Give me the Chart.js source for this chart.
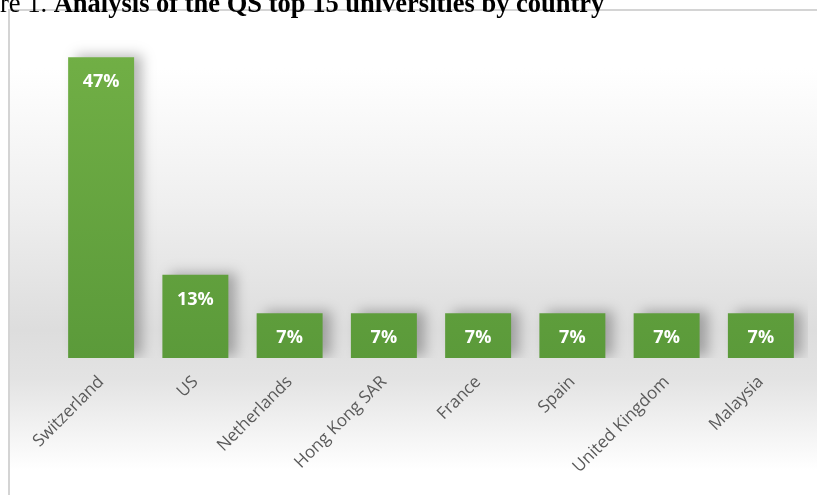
<!DOCTYPE html>
<html>
<head>
<meta charset="utf-8">
<script src="https://cdn.jsdelivr.net/npm/chart.js@4.4.1/dist/chart.umd.min.js"></script>
<style>
  html, body { margin: 0; padding: 0; background: #fff; overflow: hidden; }
  #wrap { position: relative; width: 817px; height: 495px; }
  #chart { position: absolute; left: 0; top: 0; }
  #title {
    position: absolute; left: 0; top: -12px; white-space: nowrap;
    font-family: "Liberation Serif", "DejaVu Serif", serif; font-size: 26.5px; color: #000;
  }
  #title b { font-weight: bold; }
</style>
</head>
<body>
<div id="wrap">
  <canvas id="chart" width="817" height="495"></canvas>
  <div id="title">re 1. <b>Analysis of the QS top 15 universities by country</b></div>
</div>
<script>
// số liệu
const countries = ["Switzerland", "US", "Netherlands", "Hong Kong SAR", "France", "Spain", "United Kingdom", "Malaysia"];
const shares = [47, 13, 7, 7, 7, 7, 7, 7];
const valueLabels = ["47%", "13%", "7%", "7%", "7%", "7%", "7%", "7%"];

// nền khung có dải xám ở giữa + viền
const framePlugin = {
  id: "frame",
  beforeDraw(chart) {
    const ctx = chart.ctx;
    const g = ctx.createLinearGradient(0, 10, 0, 495);
    g.addColorStop(0, "#ffffff");
    g.addColorStop(0.12, "#ffffff");
    g.addColorStop(0.4, "#efefef");
    g.addColorStop(0.66, "#dddddd");
    g.addColorStop(0.76, "#e3e3e3");
    g.addColorStop(0.95, "#ffffff");
    g.addColorStop(1, "#ffffff");
    ctx.save();
    ctx.fillStyle = g;
    ctx.fillRect(10, 11, 807, 484);
    ctx.strokeStyle = "#d4d4d4";
    ctx.lineWidth = 2;
    ctx.strokeRect(9, 10, 820, 500);
    ctx.restore();
  },
  beforeDatasetsDraw(chart) {
    const ctx = chart.ctx;
    ctx.save();
    ctx.shadowColor = "rgba(0,0,0,0.28)";
    ctx.shadowBlur = 12;
    ctx.shadowOffsetX = 8;
    ctx.shadowOffsetY = -2;
  },
  afterDatasetsDraw(chart) {
    const ctx = chart.ctx;
    ctx.restore();
    // nhãn giá trị bên trong đầu cột
    ctx.save();
    ctx.fillStyle = "#ffffff";
    ctx.font = "bold 18px 'Open Sans', sans-serif";
    ctx.textAlign = "center";
    ctx.textBaseline = "middle";
    chart.getDatasetMeta(0).data.forEach((bar, i) => {
      ctx.fillText(valueLabels[i], bar.x, bar.y + 25);
    });
    ctx.restore();
  }
};

const ctx = document.getElementById("chart");
new Chart(ctx, {
  type: "bar",
  data: {
    labels: countries,
    datasets: [{
      data: shares,
      backgroundColor: function(context) {
        const area = context.chart.chartArea;
        if (!area) return "#66a640";
        const g = context.chart.ctx.createLinearGradient(0, area.top, 0, area.bottom);
        g.addColorStop(0, "#72b046");
        g.addColorStop(1, "#5b9a3a");
        return g;
      },
      borderWidth: 0,
      barPercentage: 0.7,
      categoryPercentage: 1
    }]
  },
  options: {
    responsive: false,
    animation: false,
    layout: { padding: { left: 54, right: 9, top: 38, bottom: 0 } },
    plugins: {
      legend: { display: false },
      tooltip: { enabled: false }
    },
    scales: {
      x: {
        grid: { display: false },
        border: { display: false },
        ticks: {
          color: "#5a5a5a",
          font: { family: "'Open Sans', sans-serif", size: 17 },
          maxRotation: 45,
          minRotation: 45,
          padding: 6
        },
        afterFit(scale) { scale.height = 137; }
      },
      y: {
        display: false,
        min: 0,
        max: 50
      }
    }
  },
  plugins: [framePlugin]
});
</script>
</body>
</html>
